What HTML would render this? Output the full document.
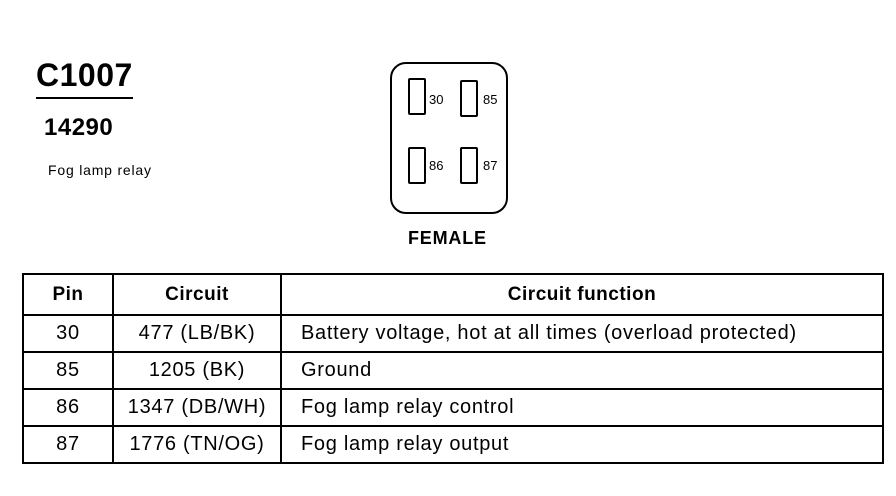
<!DOCTYPE html>
<html><head><style>
body{margin:0;width:896px;height:496px;background:#fff;position:relative;font-family:"Liberation Sans",sans-serif;color:#000;overflow:hidden}
.a{position:absolute;white-space:nowrap}
table{position:absolute;left:22px;top:273px;width:862px;table-layout:fixed;border-collapse:collapse;font-size:20px;letter-spacing:0.7px}
td{border:2px solid #000;height:35px;padding:0;text-align:center}
td.f{text-align:left;padding-left:19px}
th{border:2px solid #000;height:37px;font-size:19px;letter-spacing:0.5px}
.p{position:absolute;border:2px solid #000;width:14px;height:33px;border-radius:2px}
.n{position:absolute;font-size:13px}
</style></head><body>
<div class="a" style="left:36px;top:57px;font-size:32px;font-weight:bold;letter-spacing:0.5px">C1007</div>
<div class="a" style="left:36px;top:97px;width:97px;height:2px;background:#000"></div>
<div class="a" style="left:44px;top:114px;font-size:24px;font-weight:bold;letter-spacing:0.5px">14290</div>
<div class="a" style="left:48px;top:162px;font-size:14px;letter-spacing:0.8px">Fog lamp relay</div>
<div class="a" style="left:390px;top:62px;width:114px;height:148px;border:2px solid #000;border-radius:16px"></div>
<div class="p" style="left:408px;top:78px"></div>
<div class="p" style="left:460px;top:80px"></div>
<div class="p" style="left:408px;top:147px"></div>
<div class="p" style="left:460px;top:147px"></div>
<div class="n" style="left:429px;top:92px">30</div>
<div class="n" style="left:483px;top:92px">85</div>
<div class="n" style="left:429px;top:158px">86</div>
<div class="n" style="left:483px;top:158px">87</div>
<div class="a" style="left:408px;top:228px;font-size:18px;font-weight:bold;letter-spacing:0.8px">FEMALE</div>
<table>
<colgroup><col style="width:90px"><col style="width:168px"><col></colgroup>
<tr><th>Pin</th><th>Circuit</th><th>Circuit function</th></tr>
<tr><td>30</td><td>477 (LB/BK)</td><td class="f">Battery voltage, hot at all times (overload protected)</td></tr>
<tr><td>85</td><td>1205 (BK)</td><td class="f">Ground</td></tr>
<tr><td>86</td><td>1347 (DB/WH)</td><td class="f">Fog lamp relay control</td></tr>
<tr><td>87</td><td>1776 (TN/OG)</td><td class="f">Fog lamp relay output</td></tr>
</table>
</body></html>
